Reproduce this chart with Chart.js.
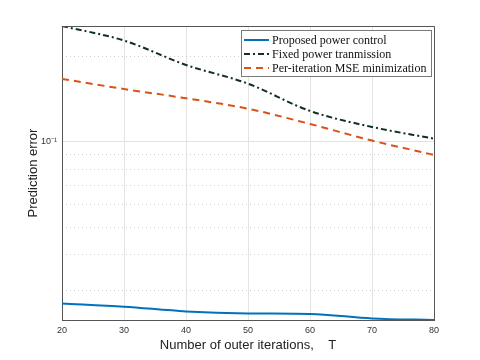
<!DOCTYPE html>
<html>
<head>
<meta charset="utf-8">
<script src="https://cdn.jsdelivr.net/npm/chart.js@4"></script>
<style>
  body { margin: 0; background: #fff; }
  #wrap { width: 480px; height: 360px; }
</style>
</head>
<body>
<div id="wrap"><canvas id="myChart" width="480" height="360"></canvas></div>
<script>
// x-axis: number of outer iterations T
var iterations = [20, 30, 40, 50, 60, 70, 80];
// prediction error of each scheme
var proposed = [0.0270, 0.0263, 0.0253, 0.0249, 0.0248, 0.0239, 0.0236];
var fixedPower = [0.256, 0.2275, 0.1867, 0.1604, 0.1286, 0.1129, 0.1027];
var perIteration = [0.1667, 0.1536, 0.1425, 0.1309, 0.1157, 0.1011, 0.0900];
// log axis ticks
var majorTicks = [0.1];
var minorTicks = [0.03, 0.04, 0.05, 0.06, 0.07, 0.08, 0.09, 0.2];
var yMin = 0.0236, yMax = 0.256;

// legend drawn inside the plot, top right (like matlab)
var insideLegend = {
  id: 'insideLegend',
  afterDraw: function(chart) {
    var c = chart.ctx, a = chart.chartArea;
    var x0 = a.right - 193, y0 = a.top + 4, w = 190, h = 46;
    c.save();
    c.fillStyle = '#fff';
    c.fillRect(x0, y0, w, h);
    c.strokeStyle = '#7a7a7a';
    c.lineWidth = 1;
    c.strokeRect(x0 + 0.5, y0 + 0.5, w, h);
    c.font = '12px "Liberation Serif", serif';
    c.textBaseline = 'middle';
    chart.data.datasets.forEach(function(ds, i) {
      var y = y0 + 10 + i * 14;
      c.beginPath();
      c.strokeStyle = ds.borderColor;
      c.lineWidth = ds.borderWidth;
      c.setLineDash(ds.borderDash || []);
      c.moveTo(x0 + 3, y);
      c.lineTo(x0 + 28, y);
      c.stroke();
      c.setLineDash([]);
      c.fillStyle = '#111';
      c.fillText(ds.label, x0 + 31, y + 1);
    });
    c.restore();
  }
};

// top and right edges of the box
var frame = {
  id: 'frame',
  afterDatasetsDraw: function(chart) {
    var c = chart.ctx, a = chart.chartArea;
    c.save();
    c.strokeStyle = '#555';
    c.lineWidth = 1;
    c.beginPath();
    c.moveTo(a.left, a.top + 0.5);
    c.lineTo(a.right + 0.5, a.top + 0.5);
    c.lineTo(a.right + 0.5, a.bottom);
    c.stroke();
    c.restore();
  }
};

var ctx = document.getElementById("myChart");
var myChart = new Chart(ctx, {
  type: 'line',
  data: {
    labels: iterations,
    datasets: [
      {
        data: proposed,
        label: "Proposed power control",
        borderColor: "#0072BD",
        borderWidth: 2,
        cubicInterpolationMode: 'monotone'
      },
      {
        data: fixedPower,
        label: "Fixed power tranmission",
        borderColor: "#13301f",
        borderWidth: 2,
        borderDash: [6, 3, 2, 3],
        cubicInterpolationMode: 'monotone'
      },
      {
        data: perIteration,
        label: "Per-iteration MSE minimization",
        borderColor: "#D95319",
        borderWidth: 2,
        borderDash: [7, 5],
        cubicInterpolationMode: 'monotone'
      }
    ]
  },
  options: {
    responsive: false,
    animation: false,
    elements: { point: { radius: 0 } },
    layout: { padding: { left: 26, right: 46, top: 26, bottom: 7 } },
    plugins: { legend: { display: false }, tooltip: { enabled: false } },
    scales: {
      x: {
        offset: false,
        afterFit: function(scale) { scale.height = 33; },
        grid: { color: '#e3e3e3', drawTicks: false },
        border: { color: '#555' },
        ticks: { color: '#333', font: { family: 'Liberation Sans', size: 9 }, padding: 5, maxRotation: 0 },
        title: {
          display: true,
          text: 'Number of outer iterations,    T',
          color: '#222',
          font: { family: 'Liberation Sans', size: 13 },
          padding: { top: 0, bottom: 0 }
        }
      },
      y: {
        type: 'logarithmic',
        min: yMin,
        max: yMax,
        afterBuildTicks: function(scale) {
          scale.ticks = majorTicks.map(function(v) { return { value: v, major: true }; });
        },
        afterFit: function(scale) { scale.width = 36; },
        grid: { color: '#e3e3e3', drawTicks: false },
        border: { color: '#555' },
        ticks: {
          color: '#333',
          font: { family: 'Liberation Sans', size: 9 },
          padding: 5,
          callback: function(v) { return '10\u207B\u00B9'; }
        },
        title: {
          display: true,
          text: 'Prediction error',
          color: '#222',
          font: { family: 'Liberation Sans', size: 13 },
          padding: { top: 0, bottom: 0 }
        }
      },
      yMinor: {
        type: 'logarithmic',
        position: 'left',
        min: yMin,
        max: yMax,
        afterBuildTicks: function(scale) {
          scale.ticks = minorTicks.map(function(v) { return { value: v }; });
        },
        afterFit: function(scale) { scale.width = 0; },
        grid: { color: '#cfcfcf', drawTicks: false },
        border: { display: false, dash: [1, 3] },
        ticks: { display: false }
      }
    }
  },
  plugins: [frame, insideLegend]
});
</script>
</body>
</html>
